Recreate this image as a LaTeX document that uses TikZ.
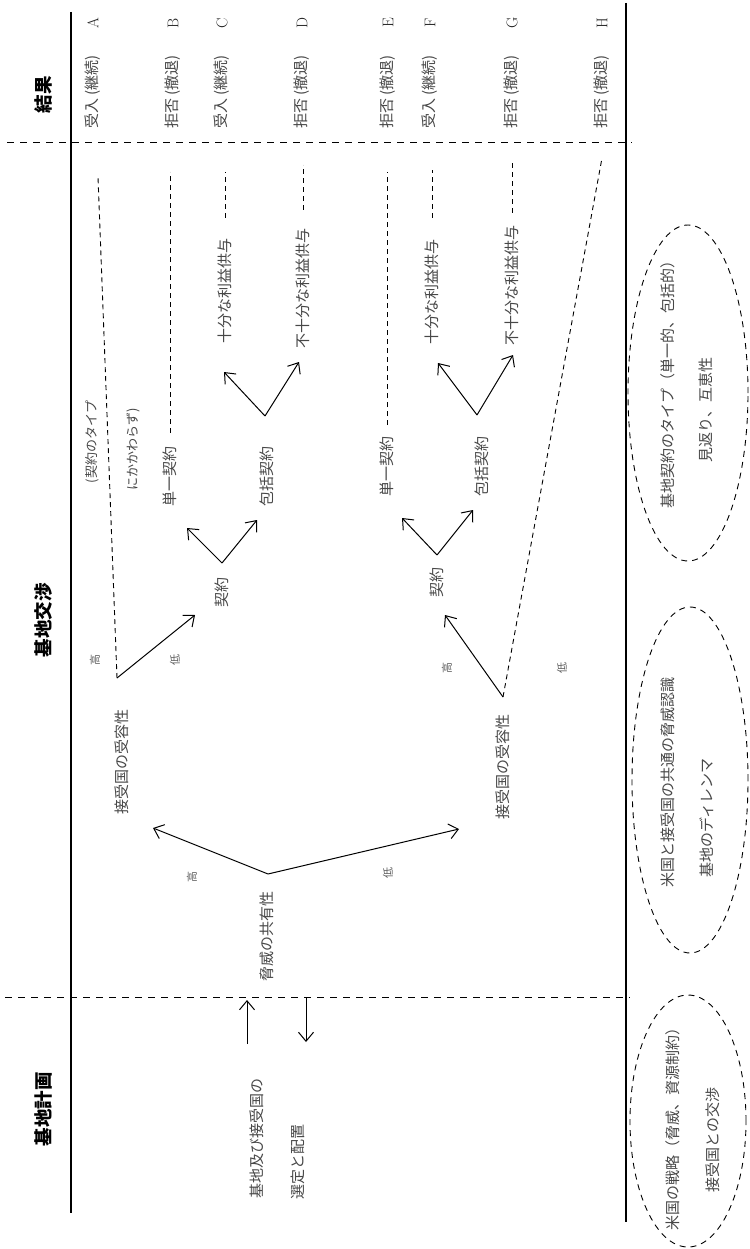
\documentclass[tikz,border=0pt]{standalone}
\usepackage{fontspec}
\newfontfamily\jp{Noto Sans CJK JP}
\usetikzlibrary{arrows.meta}
\tikzset{
  txt/.style={rotate=90, font=\jp\fontsize{15}{18}\selectfont, text=black!72, inner sep=0pt},
  small/.style={rotate=90, font=\jp\fontsize{11}{13}\selectfont, text=black!62, inner sep=0pt},
  note/.style={rotate=90, font=\jp\fontsize{13}{15}\selectfont, text=black!72, inner sep=0pt},
  title/.style={rotate=90, font=\jp\bfseries\fontsize{18.5}{22}\selectfont, text=black, inner sep=0pt},
  letter/.style={rotate=90, font=\fontsize{15.5}{18}\selectfont, text=black!85, inner sep=0pt},
  arr/.style={-{Straight Barb[length=9pt,width=15pt]}, line width=1pt},
  dline/.style={dash pattern=on 5pt off 4pt, line width=0.9pt},
  sepline/.style={dash pattern=on 7pt off 6pt, line width=0.9pt},
  frame/.style={line width=1.1pt},
  oval/.style={dash pattern=on 6pt off 5pt, line width=0.9pt},
}
\begin{document}
\begin{tikzpicture}[x=1pt,y=-1pt]
\useasboundingbox (0,0) rectangle (749,1249);
% frame lines
\coordinate (L1a) at (71,12);   \coordinate (L1b) at (71,1213);
\coordinate (L2a) at (626,3);   \coordinate (L2b) at (626,1222);
\coordinate (S1a) at (7,142);   \coordinate (S1b) at (632,142);
\coordinate (S2a) at (5,997);   \coordinate (S2b) at (630,997);
\draw[frame] (L1a) -- (L1b);
\draw[frame] (L2a) -- (L2b);
\draw[sepline] (S1a) -- (S1b);
\draw[sepline] (S2a) -- (S2b);

% titles
\node[title] (tres) at (43,95) {結果};
\node[title] (tneg) at (43,620) {基地交渉};
\node[title] (tplan) at (43,1109) {基地計画};

% results
\node[txt] (rA) at (93,92) {受入\hspace{3pt}(継続)};
\node[txt] (rB) at (173,92) {拒否\hspace{3pt}(撤退)};
\node[txt] (rC) at (222,92) {受入\hspace{3pt}(継続)};
\node[txt] (rD) at (302,92) {拒否\hspace{3pt}(撤退)};
\node[txt] (rE) at (388,92) {拒否\hspace{3pt}(撤退)};
\node[txt] (rF) at (430,92) {受入\hspace{3pt}(継続)};
\node[txt] (rG) at (512,92) {拒否\hspace{3pt}(撤退)};
\node[txt] (rH) at (602,92) {拒否\hspace{3pt}(撤退)};
\node[letter] (lA) at (93,23) {A};
\node[letter] (lB) at (173,23) {B};
\node[letter] (lC) at (222,23) {C};
\node[letter] (lD) at (302,23) {D};
\node[letter] (lE) at (388,23) {E};
\node[letter] (lF) at (430,23) {F};
\node[letter] (lG) at (512,23) {G};
\node[letter] (lH) at (602,23) {H};

% planning
\node[txt] (plan1) at (257,1138) {基地及び接受国の};
\node[txt] (plan2) at (298,1162) {選定と配置};
\coordinate (upS) at (247,1044); \coordinate (upT) at (247,1000);
\coordinate (dnS) at (306,997);  \coordinate (dnT) at (306,1042);
\draw[arr] (upS) -- (upT);
\draw[arr] (dnS) -- (dnT);

% tree root
\node[txt] (threat) at (267,936) {脅威の共有性};
\coordinate (R) at (268,874);
\coordinate (Rt1) at (153,828);
\coordinate (Rt2) at (459,829);
\draw[arr] (R) -- (Rt1);
\draw[arr] (R) -- (Rt2);
\node[small] (rhi) at (192,877) {高};
\node[small] (rlo) at (388,873) {低};

% upper branch
\node[txt] (acc1) at (122,762) {接受国の受容性};
\coordinate (U) at (117,678);
\coordinate (Ut) at (195,615);
\coordinate (Ud) at (98,177);
\draw[arr] (U) -- (Ut);
\draw[dline] (U) -- (Ud);
\node[small] (uhi) at (95,660) {高};
\node[small] (ulo) at (175,660) {低};
\node[note] (note1) at (92,442) {(契約のタイプ};
\node[note] (note2) at (133,449) {にかかわらず)};
\node[txt] (con1) at (222,592) {契約};
\coordinate (C1) at (222,563);
\coordinate (C1a) at (187,528);
\coordinate (C1b) at (257,520);
\draw[arr] (C1) -- (C1a);
\draw[arr] (C1) -- (C1b);
\node[txt] (single1) at (170,476) {単一契約};
\node[txt] (pack1) at (267,476) {包括契約};
\coordinate (s1a) at (170,433); \coordinate (s1b) at (170,172);
\draw[dline] (s1a) -- (s1b);
\coordinate (P1) at (265,416);
\coordinate (P1a) at (224,372);
\coordinate (P1b) at (299,362);
\draw[arr] (P1) -- (P1a);
\draw[arr] (P1) -- (P1b);
\node[txt] (suf1) at (225,291) {十分な利益供与};
\node[txt] (ins1) at (303,288) {不十分な利益供与};
\coordinate (f1a) at (225,218); \coordinate (f1b) at (225,172);
\coordinate (i1a) at (303,210); \coordinate (i1b) at (303,165);
\draw[dline] (f1a) -- (f1b);
\draw[dline] (i1a) -- (i1b);

% lower branch
\node[txt] (acc2) at (503,767) {接受国の受容性};
\coordinate (Lv) at (503,697);
\coordinate (Lt) at (445,615);
\coordinate (Ld) at (602,158);
\draw[arr] (Lv) -- (Lt);
\draw[dline] (Lv) -- (Ld);
\node[small] (lhi) at (447,668) {高};
\node[small] (llo) at (562,668) {低};
\node[txt] (con2) at (437,582) {契約};
\coordinate (C2) at (437,555);
\coordinate (C2a) at (402,518);
\coordinate (C2b) at (473,510);
\draw[arr] (C2) -- (C2a);
\draw[arr] (C2) -- (C2b);
\node[txt] (single2) at (387,466) {単一契約};
\node[txt] (pack2) at (482,466) {包括契約};
\coordinate (s2a) at (387,425); \coordinate (s2b) at (387,172);
\draw[dline] (s2a) -- (s2b);
\coordinate (P2) at (477,415);
\coordinate (P2a) at (438,363);
\coordinate (P2b) at (513,355);
\draw[arr] (P2) -- (P2a);
\draw[arr] (P2) -- (P2b);
\node[txt] (suf2) at (432,292) {十分な利益供与};
\node[txt] (ins2) at (512,285) {不十分な利益供与};
\coordinate (f2a) at (432,218); \coordinate (f2b) at (432,170);
\coordinate (i2a) at (512,213); \coordinate (i2b) at (512,163);
\draw[dline] (f2a) -- (f2b);
\draw[dline] (i2a) -- (i2b);

% ellipses
\draw[oval] (688,393) ellipse [x radius=60pt, y radius=168pt];
\node[txt] (e1a) at (668,381) {基地契約のタイプ（単一的、包括的）};
\node[txt] (e1b) at (706,410) {見返り、互恵性};
\draw[oval] (690,780) ellipse [x radius=58pt, y radius=173pt];
\node[txt] (e2a) at (668,782) {米国と接受国の共通の脅威認識};
\node[txt] (e2b) at (707,818) {基地のディレンマ};
\draw[oval] (688,1121) ellipse [x radius=58pt, y radius=126pt];
\node[txt] (e3a) at (673,1125) {米国の戦略（脅威、資源制約）};
\node[txt] (e3b) at (713,1140) {接受国との交渉};
\end{tikzpicture}
\end{document}
